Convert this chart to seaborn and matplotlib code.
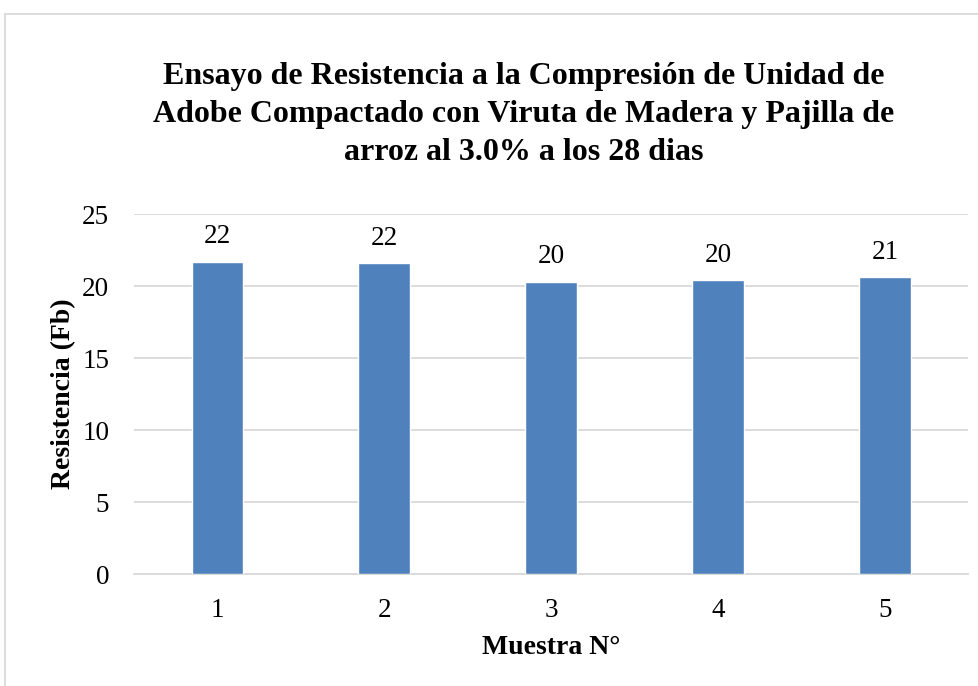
import matplotlib
matplotlib.use("Agg")
import matplotlib.pyplot as plt
import seaborn as sns
import pandas as pd
from matplotlib.patches import Rectangle

muestras = ["1", "2", "3", "4", "5"]
resistencia = [21.7, 21.6, 20.3, 20.4, 20.6]
etiquetas = ["22", "22", "20", "20", "21"]
yticks = [0, 5, 10, 15, 20, 25]

sns.set_theme(style="white")
plt.rcParams['font.family'] = ['Liberation Serif', 'DejaVu Serif']
plt.rcParams['text.color'] = 'black'

df = pd.DataFrame({"Muestra": muestras, "Resistencia": resistencia})

fig = plt.figure(figsize=(9.79, 6.86), dpi=100)
ax = fig.add_axes([0.137, 0.163, 0.852, 0.525])

sns.barplot(data=df, x="Muestra", y="Resistencia", color="#4F81BD", saturation=1,
            width=0.31, ax=ax, zorder=3)

ax.set_ylim(0, 25)
ax.set_yticks(yticks)
ax.set_xlim(-0.5, 4.5)
ax.yaxis.grid(True, color="#D9D9D9", linewidth=1.3, zorder=0)
ax.set_axisbelow(True)
for s in ["top", "right", "left"]:
    ax.spines[s].set_visible(False)
ax.spines["bottom"].set_color("#D9D9D9")
ax.spines["bottom"].set_linewidth(1.3)
ax.tick_params(axis="both", length=0, labelsize=19.5, colors="black")
ax.tick_params(axis="x", pad=17)
ax.tick_params(axis="y", pad=18)

for i, (v, t) in enumerate(zip(resistencia, etiquetas)):
    ax.text(i, v + 0.85, t, ha="center", va="bottom", fontsize=19.5, color="black")

ax.set_xlabel("Muestra N°", fontsize=20, fontweight="bold", labelpad=9, color="black")
ax.set_ylabel("Resistencia (Fb)", fontsize=20, fontweight="bold", labelpad=4, color="black")

fig.text(0.535, 0.833, "Ensayo de Resistencia a la Compresión de Unidad de\n"
         "Adobe Compactado con Viruta de Madera y Pajilla de\n"
         "arroz al 3.0% a los 28 dias",
         ha="center", va="center", fontsize=23, fontweight="bold",
         linespacing=1.4, color="black")

fig.patches.append(Rectangle((0.005, -0.01), 1.2, 0.99, transform=fig.transFigure,
                             fill=False, edgecolor="#D9D9D9", linewidth=1.3))

fig.savefig("out.png", dpi=100)
